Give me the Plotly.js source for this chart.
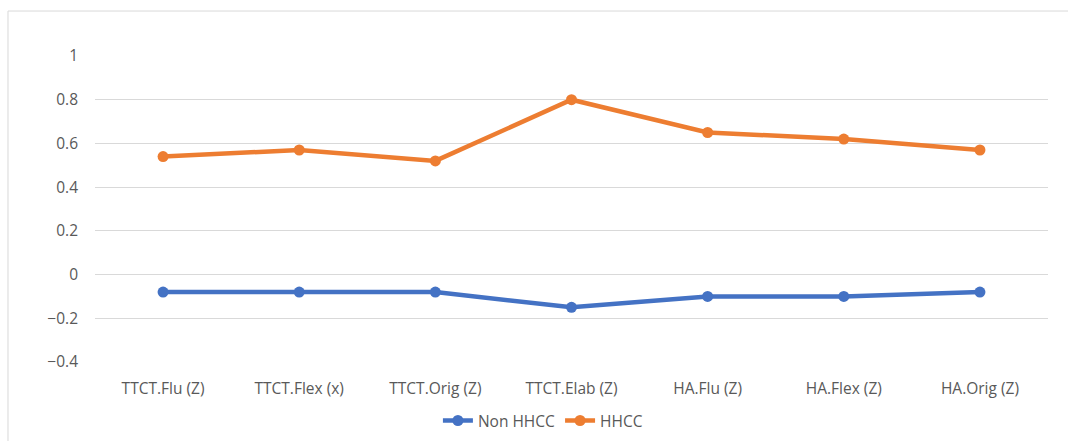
<!DOCTYPE html>
<html><head><meta charset="utf-8">
<script src="https://cdn.plot.ly/plotly-3.0.1.min.js"></script>
<style>html,body{margin:0;padding:0;background:#fff}#chart{width:1068px;height:441px}</style>
</head><body><div id="chart"></div>
<script>
const categories = ["TTCT.Flu (Z)", "TTCT.Flex (x)", "TTCT.Orig (Z)", "TTCT.Elab (Z)", "HA.Flu (Z)", "HA.Flex (Z)", "HA.Orig (Z)"];
const nonHHCC = [-0.08, -0.08, -0.08, -0.15, -0.10, -0.10, -0.08];
const hhcc = [0.54, 0.57, 0.52, 0.80, 0.65, 0.62, 0.57];
const yTicks = [-0.4, -0.2, 0, 0.2, 0.4, 0.6, 0.8, 1];

const font = {family: "Open Sans, Noto Sans, sans-serif", size: 15.5, color: "#595959"};
const traces = [
  {x: categories, y: nonHHCC, name: "Non HHCC", type: "scatter", mode: "lines+markers",
   line: {color: "#4472C4", width: 4.5}, marker: {color: "#4472C4", size: 11}},
  {x: categories, y: hhcc, name: "HHCC", type: "scatter", mode: "lines+markers",
   line: {color: "#ED7D31", width: 4.5}, marker: {color: "#ED7D31", size: 11}}
];
const layout = {
  width: 1068, height: 441,
  margin: {l: 95, r: 20, t: 56, b: 79, autoexpand: false},
  paper_bgcolor: "#fff", plot_bgcolor: "#fff",
  font: font,
  showlegend: true,
  legend: {orientation: "h", x: 0.47, xanchor: "center", y: -0.137, yanchor: "top", font: font, tracegroupgap: 0, entrywidthmode: "pixels"},
  xaxis: {type: "category", range: [-0.5, 6.5], automargin: false, showgrid: false, zeroline: false, showline: false, ticks: "", ticklabelstandoff: 15, tickfont: font, fixedrange: true},
  yaxis: {range: [-0.4, 1], automargin: false, tickvals: yTicks, ticktext: yTicks.map(v => v < 0 ? "\u2212" + Math.abs(v) : String(v)),
          showgrid: true, gridcolor: "#d9d9d9", gridwidth: 1, zeroline: false, showline: false, ticks: "",
          ticklabelstandoff: 16, tickfont: font, fixedrange: true},
  shapes: [{type: "rect", xref: "paper", yref: "paper", x0: -0.0913, x1: 1.2, y0: -0.6, y1: 1.147,
            line: {color: "#d9d9d9", width: 1}, fillcolor: "rgba(0,0,0,0)", layer: "below"}]
};
Plotly.newPlot("chart", traces, layout, {displayModeBar: false, staticPlot: true});
</script></body></html>
